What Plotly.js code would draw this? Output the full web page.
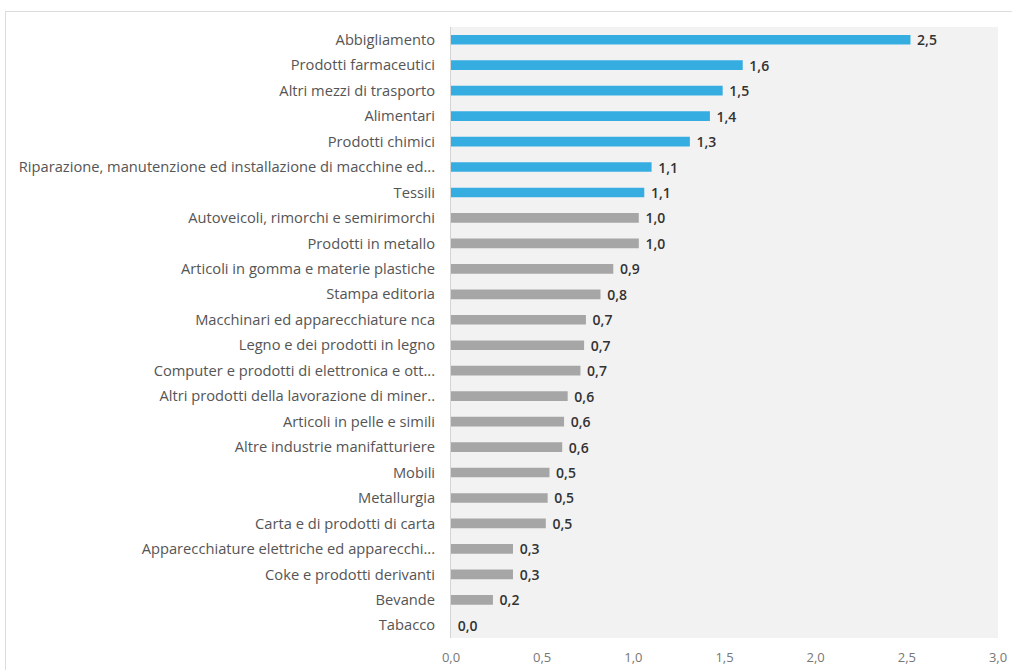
<!DOCTYPE html>
<html><head><meta charset="utf-8">
<script src="https://cdn.plot.ly/plotly-3.0.1.min.js"></script>
<style>
html,body{margin:0;padding:0;background:#fff;overflow:hidden}
#frame{position:absolute;left:5px;top:11px;width:1012px;height:670px;border:1px solid #dcdcdc;box-sizing:border-box}
#chart{position:absolute;left:0;top:0;width:1012px;height:670px}
</style></head>
<body><div id="frame"></div><div id="chart"></div>
<script>
const categories = [
"Abbigliamento","Prodotti farmaceutici","Altri mezzi di trasporto","Alimentari","Prodotti chimici",
"Riparazione, manutenzione ed installazione di macchine ed...","Tessili","Autoveicoli, rimorchi e semirimorchi",
"Prodotti in metallo","Articoli in gomma e materie plastiche","Stampa editoria","Macchinari ed apparecchiature nca",
"Legno e dei prodotti in legno","Computer e prodotti di elettronica e ott...","Altri prodotti della lavorazione di miner..",
"Articoli in pelle e simili","Altre industrie manifatturiere","Mobili","Metallurgia","Carta e di prodotti di carta",
"Apparecchiature elettriche ed apparecchi...","Coke e prodotti derivanti","Bevande","Tabacco"];
const values = [2.52,1.60,1.49,1.42,1.31,1.10,1.06,1.03,1.03,0.89,0.82,0.74,0.73,0.71,0.64,0.62,0.61,0.54,0.53,0.52,0.34,0.34,0.23,0.0];
const highlighted = [true,true,true,true,true,true,true,false,false,false,false,false,false,false,false,false,false,false,false,false,false,false,false,false];
const xTicks = [0,0.5,1,1.5,2,2.5,3];

const blue = '#35ade1', gray = '#a6a6a6';
const labels = values.map(v => ' ' + v.toFixed(1).replace('.', ','));

Plotly.newPlot('chart', [{
  type: 'bar', orientation: 'h',
  y: categories, x: values,
  marker: {color: highlighted.map(h => h ? blue : gray)},
  width: 0.38,
  text: labels, textposition: 'outside', cliponaxis: false, constraintext: 'none',
  textfont: {family: 'Open Sans, sans-serif', size: 14, color: '#333', weight: 600},
  hoverinfo: 'none'
}], {
  width: 1012, height: 670,
  margin: {l: 451, r: 14, t: 27, b: 32},
  paper_bgcolor: 'rgba(0,0,0,0)', plot_bgcolor: '#f2f2f2',
  separators: ',.',
  showlegend: false,
  bargap: 0.6,
  xaxis: {range: [0, 3], tickvals: xTicks, tickformat: '.1f', showgrid: false, zeroline: false,
          showline: false, ticks: '', tickfont: {family: 'Open Sans, sans-serif', size: 13, color: '#777'},
          ticklabelstandoff: 10, fixedrange: true},
  yaxis: {autorange: 'reversed', type: 'category', showgrid: false, zeroline: false,
          showline: true, linecolor: '#d4d4d4', linewidth: 1, ticks: '',
          tickfont: {family: 'Open Sans, sans-serif', size: 14.7, color: '#555'},
          ticklabelstandoff: 12, fixedrange: true}
}, {displayModeBar: false, staticPlot: true});
</script></body></html>
